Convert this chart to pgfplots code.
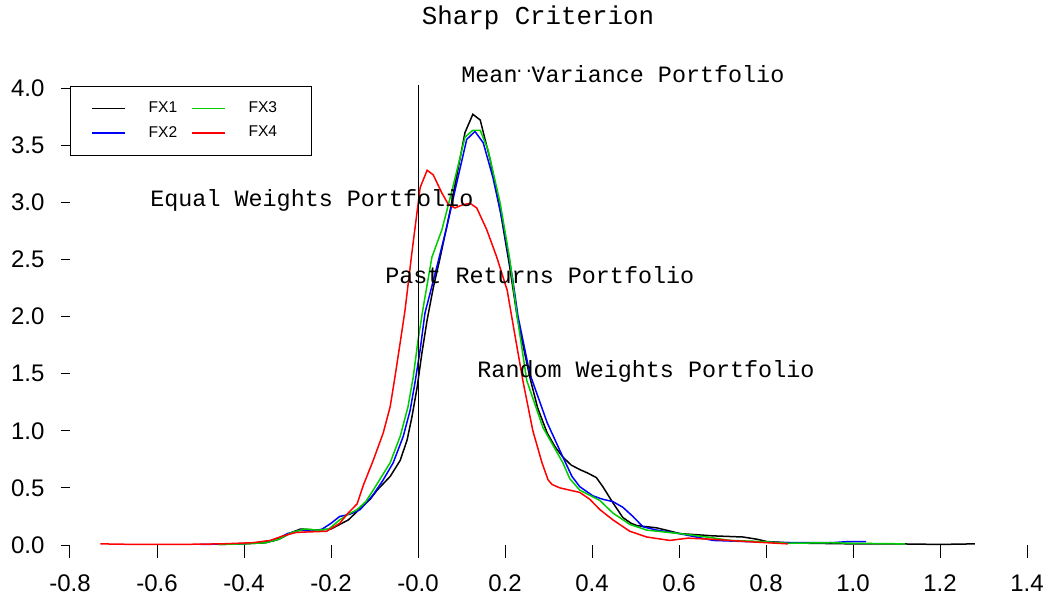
\documentclass[border=0pt]{standalone}
\usepackage{fontspec}
\setmainfont{Liberation Sans}
\newfontfamily\courier{Liberation Mono}
\usepackage{pgfplots}
\pgfplotsset{compat=1.18}
\definecolor{rgreen}{RGB}{0,205,0}
\definecolor{rblue}{RGB}{0,0,255}
\definecolor{rred}{RGB}{255,0,0}
\begin{document}
\begin{tikzpicture}
\useasboundingbox (-35pt,-27.5pt) rectangle (489pt,272.5pt);
\begin{axis}[
  scale only axis,
  width=478.5pt, height=228.5pt,
  xmin=-0.8, xmax=1.4, ymin=0, ymax=4,
  clip=false,
  axis line style={draw=none},
  tick align=outside,
  xtick pos=bottom, ytick pos=left,
  xtick={-0.8,-0.6,-0.4,-0.2,0,0.2,0.4,0.6,0.8,1.0,1.2,1.4},
  xticklabels={-0.8,-0.6,-0.4,-0.2,-0.0,0.2,0.4,0.6,0.8,1.0,1.2,1.4},
  ytick={0,0.5,1,1.5,2,2.5,3,3.5,4},
  yticklabels={0.0,0.5,1.0,1.5,2.0,2.5,3.0,3.5,4.0},
  minor tick num=0,
  xtick style={black, line width=0.5pt, /pgfplots/major tick length=6.5pt},
  ytick style={black, line width=0.5pt, /pgfplots/major tick length=4.5pt},
  ticklabel style={font=\fontsize{12}{14}\selectfont},
  /pgf/number format/assume math mode=true,
  xticklabel style={yshift=-7pt},
  yticklabel style={xshift=-5pt},
  legend columns=2,
  transpose legend,
  legend cell align=left,
  legend style={at={(axis cs:-0.8,4.02)}, anchor=north west, draw=black, line width=0.5pt,
    fill=white, font=\fontsize{7.8}{9}\selectfont, inner xsep=10.5pt, inner ysep=5.5pt,
    row sep=1.5pt,
    /tikz/every odd column/.append style={column sep=9.5pt},
    /tikz/every even column/.append style={column sep=5pt}},
  legend image code/.code={\draw[#1, line width=0.6pt] (0pt,0pt) -- (16.5pt,0pt);},
  every axis plot/.append style={line width=0.75pt},
]
\addplot[black] coordinates {
(-0.46,0.005) (-0.40,0.01) (-0.35,0.02) (-0.32,0.05) (-0.29,0.11) (-0.27,0.14) (-0.25,0.135) (-0.23,0.13) (-0.20,0.14) (-0.18,0.18) (-0.16,0.22) (-0.13,0.33) (-0.11,0.40) (-0.094,0.48) (-0.064,0.60) (-0.041,0.74) (-0.025,0.92) (-0.014,1.12) (-0.002,1.38) (0.009,1.68) (0.021,1.97) (0.035,2.25) (0.05,2.50) (0.074,2.93) (0.09,3.25) (0.108,3.61) (0.126,3.77) (0.143,3.72) (0.166,3.37) (0.189,2.93) (0.211,2.43) (0.228,2.0) (0.243,1.72) (0.257,1.47) (0.275,1.2) (0.297,0.98) (0.315,0.86) (0.333,0.77) (0.352,0.70) (0.372,0.66) (0.39,0.63) (0.41,0.59) (0.425,0.51) (0.448,0.37) (0.471,0.24) (0.49,0.19) (0.503,0.17) (0.549,0.15) (0.602,0.10) (0.678,0.08) (0.747,0.07) (0.78,0.05) (0.802,0.03) (0.85,0.02) (0.9,0.015) (1.0,0.01) (1.1,0.01) (1.2,0.005) (1.28,0.01)
};
\addlegendentry{FX1}
\addplot[rblue] coordinates {
(-0.50,0.005) (-0.42,0.01) (-0.36,0.02) (-0.33,0.04) (-0.30,0.10) (-0.27,0.13) (-0.24,0.12) (-0.22,0.14) (-0.20,0.19) (-0.18,0.25) (-0.156,0.27) (-0.133,0.31) (-0.103,0.44) (-0.08,0.57) (-0.057,0.72) (-0.034,0.95) (-0.018,1.18) (-0.007,1.42) (0.005,1.71) (0.016,2.03) (0.043,2.43) (0.066,2.78) (0.089,3.17) (0.112,3.55) (0.131,3.62) (0.15,3.52) (0.172,3.22) (0.195,2.82) (0.218,2.32) (0.23,2.0) (0.257,1.5) (0.297,1.07) (0.333,0.77) (0.354,0.6) (0.372,0.51) (0.402,0.43) (0.425,0.40) (0.448,0.38) (0.471,0.33) (0.494,0.25) (0.517,0.16) (0.549,0.13) (0.6,0.10) (0.64,0.07) (0.678,0.04) (0.756,0.03) (0.85,0.02) (0.95,0.02) (0.99,0.03) (1.03,0.03)
};
\addlegendentry{FX2}
\addplot[rgreen] coordinates {
(-0.46,0.005) (-0.40,0.01) (-0.35,0.02) (-0.32,0.05) (-0.29,0.11) (-0.26,0.14) (-0.23,0.13) (-0.205,0.14) (-0.18,0.22) (-0.16,0.27) (-0.14,0.31) (-0.12,0.38) (-0.103,0.48) (-0.064,0.72) (-0.041,0.95) (-0.023,1.21) (-0.011,1.47) (0.0,1.79) (0.012,2.08) (0.032,2.52) (0.055,2.76) (0.08,3.13) (0.108,3.57) (0.126,3.63) (0.143,3.63) (0.161,3.46) (0.189,2.99) (0.211,2.5) (0.228,2.0) (0.25,1.44) (0.287,1.03) (0.333,0.72) (0.349,0.58) (0.372,0.48) (0.418,0.39) (0.448,0.28) (0.487,0.18) (0.526,0.13) (0.602,0.10) (0.664,0.07) (0.717,0.04) (0.793,0.03) (0.85,0.015) (0.95,0.02) (1.0,0.015) (1.12,0.01)
};
\addlegendentry{\makebox[19pt][l]{FX3}}
\addplot[rred] coordinates {
(-0.73,0.01) (-0.65,0.005) (-0.55,0.005) (-0.45,0.01) (-0.38,0.02) (-0.34,0.04) (-0.31,0.08) (-0.28,0.11) (-0.25,0.115) (-0.21,0.12) (-0.18,0.19) (-0.163,0.27) (-0.14,0.36) (-0.126,0.52) (-0.103,0.74) (-0.08,0.98) (-0.064,1.21) (-0.053,1.47) (-0.041,1.77) (-0.03,2.05) (-0.014,2.56) (0.005,3.13) (0.021,3.28) (0.035,3.24) (0.055,3.08) (0.07,2.98) (0.085,2.95) (0.104,2.98) (0.12,2.99) (0.135,2.95) (0.158,2.76) (0.181,2.52) (0.205,2.23) (0.219,1.92) (0.241,1.44) (0.264,1.0) (0.285,0.72) (0.299,0.57) (0.308,0.53) (0.326,0.50) (0.372,0.46) (0.395,0.40) (0.418,0.31) (0.448,0.22) (0.487,0.12) (0.526,0.07) (0.579,0.04) (0.62,0.06) (0.678,0.05) (0.756,0.03) (0.85,0.01)
};
\addlegendentry{\makebox[19pt][l]{FX4}}
\draw[black, line width=0.5pt] (axis cs:0,4.03) -- (axis cs:0,-0.105);
\node[font=\courier\fontsize{11.7}{13}\selectfont] at (axis cs:0.471,4.12) {Mean Variance Portfolio};
\node[font=\courier\fontsize{8}{9}\selectfont, inner sep=0pt] at (axis cs:0.244,4.15) {....};
\node[font=\courier\fontsize{11.7}{13}\selectfont] at (axis cs:-0.244,3.02) {Equal Weights Portfolio};
\node[font=\courier\fontsize{11.7}{13}\selectfont] at (axis cs:0.28,2.36) {Past Returns Portfolio};
\node[font=\courier\fontsize{11.7}{13}\selectfont] at (axis cs:0.524,1.52) {Random Weights Portfolio};
\end{axis}
\node[font=\courier\fontsize{12.9}{15}\selectfont] at (234pt,263.5pt) {Sharp Criterion};
\end{tikzpicture}
\end{document}
